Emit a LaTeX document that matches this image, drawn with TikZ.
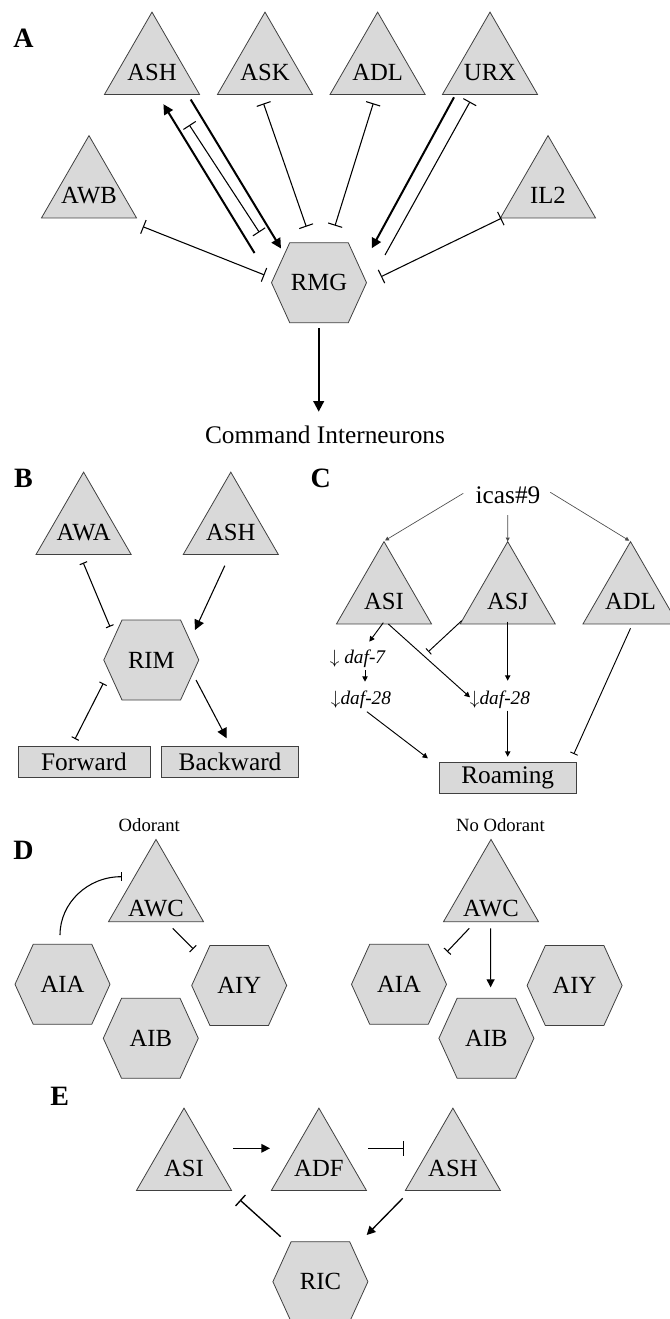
\documentclass[tikz,border=0pt]{standalone}
\usepackage{fontspec}
\setmainfont{Liberation Serif}
\usetikzlibrary{shapes.geometric}
\usetikzlibrary{shapes.symbols}
\usetikzlibrary{arrows.meta}
\usetikzlibrary{calc}

\definecolor{cellgray}{gray}{0.85}

\tikzset{
  sensory/.style={regular polygon, regular polygon sides=3, minimum size=82.3pt,
    draw=black!75, line width=0.6pt, fill=cellgray, inner sep=-12pt, text height=19.7pt, text depth=0pt,
    font=\fontsize{18.5}{21}\selectfont},
  inter/.style={signal, signal to=east and west, signal pointer angle=131,
    minimum width=71.25pt, minimum height=60pt, inner sep=0pt,
    draw=black!75, line width=0.6pt, fill=cellgray, font=\fontsize{18.5}{21}\selectfont},
  behav/.style={rectangle, draw=black!75, line width=0.6pt, fill=cellgray, minimum height=23pt,
    inner sep=0pt, font=\fontsize{19}{22}\selectfont},
  caption/.style={font=\fontsize{19}{22}\selectfont},
  gene/.style={font=\fontsize{14.5}{16}\selectfont\itshape},
  cue/.style={font=\fontsize{14}{16}\selectfont},
  panel/.style={font=\fontsize{21}{24}\selectfont\bfseries},
  act/.style={-{Triangle[length=#1,width=#1]}},
  act/.default=6pt,
  inh/.style={-{Bar[width=#1]}},
  inh/.default=8pt,
  mut/.style={{Bar[width=#1]}-{Bar[width=#1]}},
  mut/.default=8pt,
}

\begin{document}
\begin{tikzpicture}[x=0.75pt,y=-0.75pt]
\useasboundingbox (0,0) rectangle (669,1319);

% A: RMG hub
\node[panel] (labA) at (23.5,38.3) {A};
\node[sensory] (ASHa) at (152,67) {ASH};
\node[sensory] (ASK) at (265,67) {ASK};
\node[sensory] (ADLa) at (377.6,67) {ADL};
\node[sensory] (URX) at (490,67) {URX};
\node[sensory] (AWB) at (89,190.5) {AWB};
\node[sensory] (IL2) at (548,190.5) {IL2};
\node[inter] (RMG) at (319,282.7) {RMG};
\node[caption] (cmd) at (325,435) {Command Interneurons};

\draw[line width=1.5pt, act=7.5pt] ($(ASHa)+(38.7,32.5)$) -- ($(RMG)+(-38,-34.2)$);
\draw[line width=1.5pt, act=7.5pt] ($(RMG)+(-64.5,-29.7)$) -- ($(ASHa)+(11.4,37.2)$);
\draw[line width=0.8pt, mut=11pt] ($(ASHa)+(37.3,58)$) -- ($(RMG)+(-59.7,-50.4)$);
\draw[line width=0.8pt, mut=11pt] ($(ASK)+(-1.5,36.5)$) -- ($(RMG)+(-12.7,-56)$);
\draw[line width=0.8pt, mut=11pt] ($(ADLa)+(-4.3,36.3)$) -- ($(RMG)+(16,-57)$);
\draw[line width=1.5pt, act=7.5pt] ($(URX)+(-36,30.3)$) -- ($(RMG)+(52.7,-34.4)$);
\draw[line width=0.8pt, inh=11pt] ($(RMG)+(66,-27.7)$) -- ($(URX)+(-20,34.7)$);
\draw[line width=0.8pt, mut=11pt] ($(AWB)+(53.9,36.2)$) -- ($(RMG)+(-54.5,-7.7)$);
\draw[line width=0.8pt, mut=11pt] ($(IL2)+(-46.7,27.8)$) -- ($(RMG)+(62,-6)$);
\draw[line width=1.5pt, act=8pt] ($(RMG)+(-0.3,45.6)$) -- ($(cmd)+(-6.3,-23.3)$);

% B: RIM
\node[panel] (labB) at (23.5,478.3) {B};
\node[sensory] (AWA) at (83.6,527) {AWA};
\node[sensory] (ASHb) at (230.8,527) {ASH};
\node[inter] (RIM) at (151.3,660) {RIM};
\node[behav, minimum width=99pt] (fwd) at (84,762) {Forward};
\node[behav, minimum width=102.75pt] (bwd) at (230,762) {Backward};

\draw[line width=0.8pt, mut=6pt] ($(AWA)+(-0.4,35.7)$) -- ($(RIM)+(-41.3,-33.3)$);
\draw[line width=0.8pt, act=7.5pt] ($(ASHb)+(-6,38.7)$) -- ($(RIM)+(43.7,-30)$);
\draw[line width=0.8pt, mut=6pt] ($(RIM)+(-48,23.3)$) -- ($(fwd)+(-9,-23)$);
\draw[line width=0.8pt, act=7.5pt] ($(RIM)+(44.7,20)$) -- ($(bwd)+(-3.3,-23.7)$);

% C: icas#9
\node[panel] (labC) at (320.8,478.3) {C};
\node[caption] (icas) at (508,495) {icas\#9};
\node[sensory] (ASI) at (384,596.5) {ASI};
\node[sensory] (ASJ) at (507.7,596.5) {ASJ};
\node[sensory] (ADLc) at (630.5,596.5) {ADL};
\node[gene] (daf7) at (357.5,658.3) {$\downarrow$\ daf-7};
\node[gene] (daf28l) at (361,700) {$\downarrow$daf-28};
\node[gene] (daf28r) at (500,700) {$\downarrow$daf-28};
\node[behav, minimum width=102.5pt] (roam) at (507.7,777.7) {Roaming};
\coordinate (asjhit) at (428.3,651.7);

\draw[line width=0.5pt, black!70, act=3pt] ($(icas)+(-44.7,-1.7)$) -- ($(ASI)+(1,-56)$);
\draw[line width=0.5pt, black!70, act=3pt] ($(icas)+(-0.3,20)$) -- ($(ASJ)+(0,-55)$);
\draw[line width=0.5pt, black!70, act=3pt] ($(icas)+(42.3,-2.7)$) -- ($(ADLc)+(-1.2,-55.8)$);
\draw[line width=0.7pt, act=4pt] ($(ASI)+(-0.7,26.2)$) -- ($(daf7)+(11.8,-16.6)$);
\draw[line width=0.7pt, act=4pt] ($(ASI)+(4.3,27.5)$) -- ($(daf28r)+(-30,-2.7)$);
\draw[line width=0.7pt, inh=6pt] ($(ASJ)+(-46,24.2)$) -- (asjhit);
\draw[line width=0.7pt, act=4pt] ($(daf7)+(7.5,11.7)$) -- ($(daf28l)+(4,-18.3)$);
\draw[line width=0.7pt, act=4pt] ($(ASJ)+(0,25.2)$) -- ($(daf28r)+(7.7,-19.3)$);
\draw[line width=0.7pt, act=4pt] ($(daf28l)+(5.9,11.7)$) -- ($(roam)+(-79.8,-19.4)$);
\draw[line width=0.7pt, act=4pt] ($(daf28r)+(7.7,10.7)$) -- ($(roam)+(0,-21)$);
\draw[line width=0.7pt, inh=6pt] ($(ADLc)+(0,31.8)$) -- ($(roam)+(66.1,-23.7)$);

% D: AWC with and without odorant
\node[cue] (odor) at (149.3,825) {Odorant};
\node[cue] (noodor) at (500.4,825) {No Odorant};
\node[panel] (labD) at (23.5,850) {D};
\node[sensory, text height=33.2pt] (AWCl) at (156,894.3) {AWC};
\node[sensory, text height=33.2pt] (AWCr) at (491,894.3) {AWC};
\node[inter] (AIAl) at (62.5,984.3) {AIA};
\node[inter] (AIYl) at (239.2,985.5) {AIY};
\node[inter] (AIBl) at (150.8,1038.3) {AIB};
\node[inter] (AIAr) at (399,984.3) {AIA};
\node[inter] (AIYr) at (574.6,985.5) {AIY};
\node[inter] (AIBr) at (486.4,1038.3) {AIB};

\draw[line width=0.8pt, inh=7pt] ($(AIAl)+(-2.5,-49.3)$) .. controls +(0,-32) and +(-34,0) .. ($(AWCl)+(-34.3,-17.6)$);
\draw[line width=0.8pt, inh=7pt] ($(AWCl)+(16.8,34)$) -- ($(AIYl)+(-45.9,-36.5)$);
\draw[line width=0.8pt, inh=7pt] ($(AWCr)+(-21.7,34)$) -- ($(AIAr)+(48.1,-32.6)$);
\draw[line width=0.8pt, act=6pt] ($(AWCr)+(-0.4,34)$) -- ($(AIBr)+(4.2,-51)$);

% E: ASI, ADF, ASH and RIC
\node[panel] (labE) at (59.7,1096.7) {E};
\node[sensory] (ASIe) at (184,1163) {ASI};
\node[sensory] (ADF) at (318.9,1163) {ADF};
\node[sensory] (ASHe) at (452.9,1163) {ASH};
\node[inter] (RIC) at (320.4,1281.7) {RIC};

\draw[line width=1pt, act=6.5pt] ($(ASIe)+(49.3,-14.7)$) -- ($(ADF)+(-48.9,-14.7)$);
\draw[line width=1pt, inh=11pt] ($(ADF)+(49.4,-14.7)$) -- ($(ASHe)+(-48.6,-14.7)$);
\draw[line width=1pt, act=6.5pt] ($(ASHe)+(-50.2,35.3)$) -- ($(RIC)+(46.3,-46.7)$);
\draw[line width=1pt, inh=11pt] ($(RIC)+(-39.7,-45)$) -- ($(ASIe)+(56,37)$);
\end{tikzpicture}
\end{document}
